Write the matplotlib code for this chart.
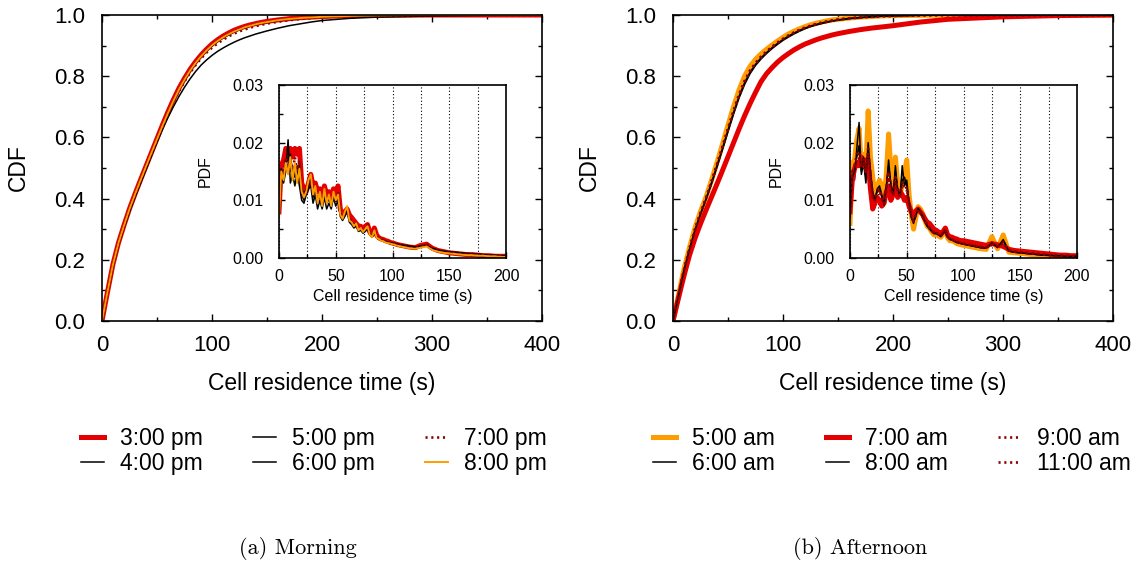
import numpy as np
import matplotlib
matplotlib.use('Agg')
import matplotlib.pyplot as plt
from matplotlib.ticker import MultipleLocator

plt.rcParams['font.family'] = 'Liberation Sans'

# ---------------- data ----------------
cdf_t = [0, 5, 10, 15, 20, 25, 30, 35, 40, 45, 50, 55, 60, 65, 70, 75, 80, 85, 90, 95, 100,
         105, 110, 115, 120, 125, 130, 135, 140, 145, 150, 160, 170, 180, 190, 200, 225, 250, 300, 350, 400]
# histogram bin positions of the pdf insets (2 s bins up to 100 s, then 5 s)
pdf_t = np.concatenate([np.arange(0, 101, 2), np.arange(105, 201, 5)])

# (a) Morning
cdf_3pm = [0.0, 0.095, 0.186, 0.256, 0.313, 0.367, 0.415, 0.461, 0.506, 0.551, 0.596, 0.641, 0.684, 0.724, 0.761, 0.793, 0.822, 0.847, 0.869, 0.888, 0.905,
           0.919, 0.931, 0.941, 0.95, 0.957, 0.963, 0.968, 0.972, 0.976, 0.979, 0.984, 0.988, 0.991, 0.993, 0.995, 0.998, 0.999, 1.0, 1.0, 1.0]
cdf_4pm = [0.0, 0.092, 0.18, 0.25, 0.305, 0.357, 0.405, 0.45, 0.495, 0.54, 0.584, 0.626, 0.665, 0.701, 0.734, 0.764, 0.791, 0.815, 0.836, 0.853, 0.868,
           0.881, 0.892, 0.902, 0.911, 0.919, 0.926, 0.932, 0.938, 0.943, 0.948, 0.957, 0.965, 0.971, 0.977, 0.982, 0.989, 0.993, 0.997, 0.999, 1.0]
cdf_5pm = [0.0, 0.094, 0.184, 0.254, 0.311, 0.365, 0.413, 0.459, 0.504, 0.548, 0.592, 0.636, 0.678, 0.718, 0.755, 0.787, 0.816, 0.841, 0.863, 0.882, 0.899,
           0.913, 0.925, 0.935, 0.944, 0.952, 0.958, 0.964, 0.969, 0.973, 0.976, 0.982, 0.986, 0.989, 0.992, 0.994, 0.997, 0.999, 1.0, 1.0, 1.0]
cdf_6pm = [0.0, 0.095, 0.186, 0.256, 0.313, 0.367, 0.415, 0.461, 0.506, 0.55, 0.595, 0.639, 0.681, 0.721, 0.758, 0.79, 0.819, 0.844, 0.866, 0.885, 0.902,
           0.916, 0.928, 0.938, 0.947, 0.954, 0.96, 0.965, 0.97, 0.974, 0.977, 0.983, 0.987, 0.99, 0.992, 0.994, 0.997, 0.999, 1.0, 1.0, 1.0]
cdf_7pm = [0.0, 0.094, 0.184, 0.254, 0.31, 0.364, 0.411, 0.457, 0.502, 0.546, 0.59, 0.634, 0.676, 0.715, 0.751, 0.783, 0.811, 0.836, 0.858, 0.877, 0.893,
           0.907, 0.919, 0.93, 0.939, 0.947, 0.953, 0.959, 0.964, 0.968, 0.972, 0.978, 0.983, 0.987, 0.99, 0.993, 0.997, 0.999, 1.0, 1.0, 1.0]
cdf_8pm = [0.0, 0.095, 0.185, 0.255, 0.312, 0.366, 0.414, 0.46, 0.505, 0.55, 0.594, 0.638, 0.68, 0.72, 0.757, 0.789, 0.818, 0.843, 0.865, 0.884, 0.901,
           0.915, 0.927, 0.937, 0.946, 0.953, 0.96, 0.965, 0.97, 0.974, 0.977, 0.983, 0.987, 0.99, 0.992, 0.994, 0.997, 0.999, 1.0, 1.0, 1.0]

pdf_3pm = [0.008, 0.016, 0.017, 0.019, 0.018, 0.019, 0.0175, 0.019, 0.018, 0.019, 0.013, 0.012, 0.0115, 0.013, 0.0145, 0.0125, 0.013, 0.0115, 0.012, 0.0105,
           0.0125, 0.011, 0.0115, 0.0105, 0.012, 0.011, 0.0125, 0.0085, 0.0075, 0.008, 0.0085, 0.0075, 0.007, 0.0065, 0.006, 0.0055, 0.0055, 0.005, 0.0055, 0.0058,
           0.0045, 0.004, 0.0052, 0.004, 0.0035, 0.0033, 0.0032, 0.003, 0.0029, 0.0027, 0.0026,
           0.0023, 0.0021, 0.0019, 0.0018, 0.0022, 0.0024, 0.0017, 0.0013, 0.0011, 0.0009, 0.0008, 0.0007, 0.0006, 0.0006, 0.0005, 0.0004, 0.0004, 0.0003, 0.0003, 0.0003]
pdf_4pm = [0.007, 0.014, 0.013, 0.015, 0.0205, 0.013, 0.0145, 0.0125, 0.015, 0.0125, 0.010, 0.0095, 0.011, 0.012, 0.0125, 0.0095, 0.011, 0.0085, 0.010, 0.0085,
           0.0105, 0.0085, 0.0095, 0.0085, 0.0105, 0.009, 0.010, 0.0072, 0.0065, 0.0072, 0.008, 0.0062, 0.0058, 0.0052, 0.0055, 0.0046, 0.0048, 0.0043, 0.0046, 0.005,
           0.004, 0.0036, 0.0044, 0.0035, 0.0033, 0.0031, 0.003, 0.0029, 0.0028, 0.0027, 0.0026,
           0.0024, 0.0022, 0.0021, 0.0019, 0.0021, 0.0022, 0.0017, 0.0014, 0.0012, 0.0011, 0.001, 0.0009, 0.0008, 0.0007, 0.0007, 0.0006, 0.0005, 0.0005, 0.0004, 0.0004]
pdf_5pm = [0.008, 0.0155, 0.014, 0.017, 0.015, 0.018, 0.014, 0.016, 0.0135, 0.016, 0.012, 0.011, 0.012, 0.0128, 0.014, 0.0115, 0.012, 0.010, 0.0112, 0.0095,
           0.0118, 0.010, 0.0105, 0.0095, 0.011, 0.0102, 0.0112, 0.0078, 0.007, 0.0078, 0.0086, 0.0068, 0.0063, 0.0058, 0.0058, 0.005, 0.005, 0.0046, 0.005, 0.0053,
           0.0042, 0.0037, 0.0046, 0.0036, 0.0033, 0.0031, 0.0029, 0.0028, 0.0026, 0.0025, 0.0024,
           0.0021, 0.002, 0.0018, 0.0016, 0.0019, 0.0021, 0.0015, 0.0012, 0.001, 0.0008, 0.0007, 0.0006, 0.0006, 0.0005, 0.0004, 0.0004, 0.0003, 0.0003, 0.0003, 0.0002]
pdf_6pm = [0.0075, 0.0145, 0.015, 0.016, 0.0175, 0.015, 0.016, 0.014, 0.016, 0.0145, 0.011, 0.010, 0.0115, 0.0125, 0.0135, 0.0105, 0.012, 0.0095, 0.0108, 0.0092,
           0.0112, 0.0095, 0.0102, 0.009, 0.0108, 0.0098, 0.0105, 0.0076, 0.0068, 0.0075, 0.0084, 0.0066, 0.006, 0.0056, 0.0057, 0.0049, 0.0049, 0.0045, 0.0049, 0.0052,
           0.0041, 0.0037, 0.0045, 0.0036, 0.0033, 0.0031, 0.003, 0.0028, 0.0027, 0.0026, 0.0025,
           0.0022, 0.002, 0.0019, 0.0017, 0.0019, 0.0021, 0.0016, 0.0013, 0.0011, 0.0009, 0.0008, 0.0007, 0.0006, 0.0006, 0.0005, 0.0004, 0.0004, 0.0003, 0.0003, 0.0003]
pdf_7pm = [0.0078, 0.015, 0.0145, 0.0175, 0.016, 0.017, 0.015, 0.0175, 0.015, 0.017, 0.0118, 0.0108, 0.0118, 0.013, 0.014, 0.0112, 0.0125, 0.010, 0.0115, 0.0095,
           0.0118, 0.010, 0.0108, 0.0095, 0.0112, 0.0102, 0.0115, 0.008, 0.007, 0.0078, 0.0085, 0.0068, 0.0064, 0.0058, 0.0058, 0.005, 0.0052, 0.0046, 0.005, 0.0058,
           0.0042, 0.0038, 0.005, 0.0037, 0.0034, 0.0031, 0.003, 0.0028, 0.0027, 0.0026, 0.0025,
           0.0022, 0.002, 0.0018, 0.0017, 0.002, 0.0025, 0.0015, 0.0012, 0.001, 0.0009, 0.0008, 0.0007, 0.0006, 0.0005, 0.0005, 0.0004, 0.0004, 0.0003, 0.0003, 0.0003]
pdf_8pm = [0.007, 0.015, 0.0135, 0.0165, 0.0145, 0.0175, 0.0135, 0.0165, 0.013, 0.0155, 0.0115, 0.0105, 0.0115, 0.0135, 0.0145, 0.011, 0.0125, 0.0095, 0.0115, 0.009,
           0.012, 0.0095, 0.011, 0.009, 0.0115, 0.010, 0.011, 0.0075, 0.0068, 0.008, 0.009, 0.0065, 0.0062, 0.0055, 0.006, 0.0048, 0.0052, 0.0045, 0.005, 0.0055,
           0.004, 0.0036, 0.0048, 0.0035, 0.0033, 0.003, 0.0029, 0.0027, 0.0026, 0.0025, 0.0024,
           0.0021, 0.0019, 0.0017, 0.0016, 0.0018, 0.002, 0.0014, 0.0011, 0.0009, 0.0008, 0.0007, 0.0006, 0.0005, 0.0005, 0.0004, 0.0004, 0.0003, 0.0003, 0.0002, 0.0002]

# (b) Afternoon
cdf_5am = [0.0, 0.085, 0.17, 0.24, 0.305, 0.358, 0.405, 0.46, 0.518, 0.578, 0.64, 0.70, 0.755, 0.80, 0.832, 0.855, 0.873, 0.888, 0.902, 0.915, 0.927,
           0.938, 0.947, 0.955, 0.962, 0.968, 0.973, 0.977, 0.981, 0.984, 0.986, 0.99, 0.993, 0.995, 0.997, 0.998, 0.999, 1.0, 1.0, 1.0, 1.0]
cdf_6am = [0.0, 0.08, 0.162, 0.232, 0.295, 0.348, 0.396, 0.448, 0.503, 0.56, 0.618, 0.675, 0.728, 0.772, 0.808, 0.835, 0.856, 0.874, 0.89, 0.904, 0.917,
           0.928, 0.938, 0.947, 0.955, 0.962, 0.967, 0.972, 0.976, 0.98, 0.983, 0.988, 0.991, 0.994, 0.996, 0.997, 0.999, 1.0, 1.0, 1.0, 1.0]
cdf_7am = [0.0, 0.075, 0.148, 0.215, 0.27, 0.318, 0.362, 0.405, 0.448, 0.492, 0.537, 0.582, 0.627, 0.67, 0.71, 0.747, 0.782, 0.808, 0.828, 0.846, 0.861,
           0.874, 0.886, 0.896, 0.905, 0.912, 0.919, 0.925, 0.93, 0.935, 0.939, 0.946, 0.952, 0.957, 0.961, 0.965, 0.977, 0.986, 0.994, 0.998, 1.0]
cdf_8am = [0.0, 0.082, 0.165, 0.235, 0.298, 0.351, 0.399, 0.452, 0.508, 0.565, 0.624, 0.681, 0.734, 0.778, 0.813, 0.839, 0.86, 0.877, 0.893, 0.907, 0.92,
           0.931, 0.941, 0.95, 0.957, 0.964, 0.969, 0.974, 0.978, 0.981, 0.984, 0.989, 0.992, 0.994, 0.996, 0.997, 0.999, 1.0, 1.0, 1.0, 1.0]
cdf_9am = [0.0, 0.083, 0.167, 0.237, 0.30, 0.354, 0.402, 0.456, 0.512, 0.57, 0.629, 0.687, 0.74, 0.784, 0.818, 0.843, 0.864, 0.881, 0.896, 0.91, 0.922,
           0.933, 0.943, 0.951, 0.959, 0.965, 0.97, 0.975, 0.979, 0.982, 0.985, 0.989, 0.992, 0.995, 0.996, 0.997, 0.999, 1.0, 1.0, 1.0, 1.0]
cdf_11am = [0.0, 0.082, 0.166, 0.236, 0.299, 0.352, 0.40, 0.454, 0.51, 0.568, 0.627, 0.684, 0.737, 0.781, 0.816, 0.841, 0.862, 0.879, 0.894, 0.908, 0.921,
            0.932, 0.942, 0.95, 0.958, 0.964, 0.97, 0.974, 0.978, 0.982, 0.985, 0.989, 0.992, 0.994, 0.996, 0.997, 0.999, 1.0, 1.0, 1.0, 1.0]

pdf_5am = [0.006, 0.0165, 0.017, 0.0205, 0.0225, 0.016, 0.018, 0.0155, 0.0255, 0.0175, 0.014, 0.011, 0.0125, 0.0135, 0.0125, 0.010, 0.0145, 0.0215, 0.0155, 0.012,
           0.0175, 0.013, 0.011, 0.0125, 0.015, 0.017, 0.011, 0.0075, 0.005, 0.007, 0.0089, 0.0085, 0.0077, 0.0065, 0.0055, 0.0052, 0.0045, 0.004, 0.0042, 0.0038,
           0.0036, 0.0042, 0.0051, 0.0035, 0.003, 0.003, 0.0028, 0.0025, 0.0024, 0.0023, 0.0022,
           0.002, 0.0018, 0.0016, 0.0015, 0.0037, 0.0016, 0.004, 0.001, 0.0009, 0.0008, 0.0007, 0.0006, 0.0005, 0.0004, 0.0004, 0.0003, 0.0003, 0.0002, 0.0002, 0.0002]
pdf_6am = [0.007, 0.015, 0.0135, 0.019, 0.0235, 0.0145, 0.0165, 0.013, 0.0185, 0.014, 0.011, 0.0105, 0.0115, 0.012, 0.0105, 0.009, 0.012, 0.017, 0.0125, 0.0105,
           0.016, 0.0115, 0.0105, 0.016, 0.0125, 0.0135, 0.0095, 0.007, 0.006, 0.0075, 0.0085, 0.008, 0.007, 0.0062, 0.0055, 0.005, 0.0046, 0.0042, 0.0042, 0.004,
           0.0037, 0.0042, 0.0048, 0.0036, 0.0032, 0.0031, 0.0029, 0.0027, 0.0026, 0.0025, 0.0024,
           0.0022, 0.002, 0.0018, 0.0017, 0.0028, 0.0018, 0.0032, 0.0012, 0.001, 0.0009, 0.0008, 0.0007, 0.0006, 0.0005, 0.0005, 0.0004, 0.0003, 0.0003, 0.0003, 0.0002]
pdf_7am = [0.008, 0.0135, 0.0155, 0.0165, 0.016, 0.0175, 0.016, 0.017, 0.0165, 0.012, 0.0085, 0.0095, 0.0105, 0.010, 0.009, 0.0095, 0.0115, 0.0125, 0.010, 0.011,
           0.0125, 0.0105, 0.0115, 0.011, 0.010, 0.0105, 0.009, 0.008, 0.0075, 0.0082, 0.0085, 0.008, 0.0075, 0.0068, 0.0062, 0.006, 0.0055, 0.005, 0.0048, 0.0045,
           0.0042, 0.0046, 0.0052, 0.004, 0.0037, 0.0036, 0.0034, 0.0033, 0.0031, 0.003, 0.003,
           0.0028, 0.0026, 0.0024, 0.0022, 0.0025, 0.0023, 0.002, 0.0015, 0.0013, 0.0012, 0.0011, 0.001, 0.0009, 0.0008, 0.0007, 0.0006, 0.0005, 0.0005, 0.0004, 0.0004]
pdf_8am = [0.0075, 0.014, 0.015, 0.0175, 0.0195, 0.015, 0.0175, 0.014, 0.020, 0.015, 0.0115, 0.010, 0.012, 0.0125, 0.011, 0.0092, 0.0125, 0.016, 0.013, 0.011,
           0.015, 0.012, 0.0108, 0.0135, 0.014, 0.0125, 0.0098, 0.0072, 0.0062, 0.0073, 0.0086, 0.008, 0.0072, 0.0064, 0.0056, 0.0051, 0.0047, 0.0043, 0.0043, 0.004,
           0.0038, 0.0043, 0.0047, 0.0036, 0.0033, 0.0031, 0.0029, 0.0027, 0.0026, 0.0025, 0.0024,
           0.0022, 0.002, 0.0018, 0.0017, 0.0026, 0.0019, 0.003, 0.0012, 0.001, 0.0009, 0.0008, 0.0007, 0.0006, 0.0005, 0.0005, 0.0004, 0.0004, 0.0003, 0.0003, 0.0003]
pdf_9am = [0.008, 0.0145, 0.016, 0.018, 0.0185, 0.0155, 0.017, 0.0145, 0.019, 0.0145, 0.011, 0.010, 0.0115, 0.012, 0.0105, 0.0095, 0.012, 0.015, 0.012, 0.0108,
           0.014, 0.0118, 0.0105, 0.013, 0.0128, 0.012, 0.0095, 0.0072, 0.0063, 0.0075, 0.0085, 0.008, 0.0073, 0.0064, 0.0057, 0.0052, 0.0047, 0.0043, 0.0044, 0.0041,
           0.0038, 0.0043, 0.005, 0.0037, 0.0033, 0.0032, 0.003, 0.0028, 0.0027, 0.0026, 0.0025,
           0.0023, 0.0021, 0.0019, 0.0018, 0.0024, 0.002, 0.0028, 0.0013, 0.0011, 0.001, 0.0009, 0.0008, 0.0007, 0.0006, 0.0005, 0.0005, 0.0004, 0.0004, 0.0003, 0.0003]
pdf_11am = [0.0078, 0.015, 0.0155, 0.017, 0.0175, 0.016, 0.0165, 0.015, 0.018, 0.014, 0.0105, 0.0102, 0.0112, 0.0118, 0.0102, 0.0098, 0.0118, 0.0145, 0.0118, 0.011,
            0.0135, 0.0115, 0.0108, 0.0125, 0.0122, 0.0118, 0.0092, 0.0074, 0.0066, 0.0076, 0.0084, 0.0079, 0.0072, 0.0065, 0.0058, 0.0053, 0.0048, 0.0044, 0.0044, 0.0041,
            0.0038, 0.0044, 0.0049, 0.0037, 0.0034, 0.0032, 0.003, 0.0029, 0.0027, 0.0026, 0.0025,
            0.0023, 0.0021, 0.0019, 0.0018, 0.0023, 0.002, 0.0026, 0.0013, 0.0011, 0.001, 0.0009, 0.0008, 0.0007, 0.0006, 0.0005, 0.0005, 0.0004, 0.0004, 0.0003, 0.0003]

# ---------------- styles ----------------
RED = '#e40000'
ORANGE = '#ff9c00'
DRED = '#8c0000'
thick_red = dict(color=RED, lw=3.6)
thick_orange = dict(color=ORANGE, lw=3.6)
thin_orange = dict(color=ORANGE, lw=1.4)
thin_black = dict(color='black', lw=1.1)
dotted = dict(color=DRED, lw=1.9, ls=(0, (0.8, 1.4)))

morning = [('3:00 pm', cdf_3pm, pdf_3pm, thick_red),
           ('4:00 pm', cdf_4pm, pdf_4pm, thin_black),
           ('5:00 pm', cdf_5pm, pdf_5pm, thin_black),
           ('6:00 pm', cdf_6pm, pdf_6pm, thin_black),
           ('7:00 pm', cdf_7pm, pdf_7pm, dotted),
           ('8:00 pm', cdf_8pm, pdf_8pm, thin_orange)]
afternoon = [('5:00 am', cdf_5am, pdf_5am, thick_orange),
             ('6:00 am', cdf_6am, pdf_6am, thin_black),
             ('7:00 am', cdf_7am, pdf_7am, thick_red),
             ('8:00 am', cdf_8am, pdf_8am, thin_black),
             ('9:00 am', cdf_9am, pdf_9am, dotted),
             ('11:00 am', cdf_11am, pdf_11am, dotted)]

W, H = 1140, 561
fig = plt.figure(figsize=(W / 100, H / 100), dpi=100)


def px(x0, y0, x1, y1):
    # pixel box -> figure fraction
    return [x0 / W, 1 - y1 / H, (x1 - x0) / W, (y1 - y0) / H]


def panel(x0, series, legx, caption, capx):
    ax = fig.add_axes(px(x0, 15, x0 + 440, 321))
    ins = fig.add_axes(px(x0 + 177, 85, x0 + 404, 258))
    handles = []
    for lab, c, p, st in series:
        h, = ax.plot(cdf_t, c, label=lab, **st)
        ins.plot(pdf_t, p, **st)
        handles.append(h)

    ax.set_xlim(0, 400)
    ax.set_ylim(0, 1)
    ax.xaxis.set_major_locator(MultipleLocator(100))
    ax.xaxis.set_minor_locator(MultipleLocator(50))
    ax.yaxis.set_major_locator(MultipleLocator(0.2))
    ax.yaxis.set_minor_locator(MultipleLocator(0.1))
    ax.yaxis.set_major_formatter(plt.FormatStrFormatter('%.1f'))
    ax.tick_params(which='both', direction='in', top=True, right=True, width=1.0)
    ax.tick_params(which='major', length=5, labelsize=16, pad=10)
    ax.tick_params(which='minor', length=3)
    ax.tick_params(axis='y', which='major', pad=12)
    ax.set_xlabel('Cell residence time (s)', fontsize=16.5, va='center')
    ax.set_ylabel('CDF', fontsize=16.5, va='center')
    ax.xaxis.set_label_coords(0.5, -0.203)
    ax.yaxis.set_label_coords(-0.19, 0.5)
    for s in ax.spines.values():
        s.set_linewidth(1.2)

    ins.set_xlim(0, 200)
    ins.set_ylim(0, 0.03)
    ins.xaxis.set_major_locator(MultipleLocator(50))
    ins.xaxis.set_minor_locator(MultipleLocator(25))
    ins.yaxis.set_major_locator(MultipleLocator(0.01))
    ins.yaxis.set_minor_locator(MultipleLocator(0.005))
    ins.yaxis.set_major_formatter(plt.FormatStrFormatter('%.2f'))
    ins.tick_params(which='both', direction='in', width=1.0)
    ins.tick_params(which='major', length=4, labelsize=11.5)
    ins.tick_params(which='minor', length=3)
    ins.tick_params(axis='y', which='major', pad=11)
    ins.tick_params(axis='x', which='major', pad=8)
    ins.grid(True, axis='x', which='both', color='black', ls=(0, (1, 2)), lw=0.8)
    ins.set_xlabel('Cell residence time (s)', fontsize=11.5, va='center')
    ins.set_ylabel('PDF', fontsize=11.5, va='center')
    ins.xaxis.set_label_coords(0.5, -0.22)
    ins.yaxis.set_label_coords(-0.326, 0.5)
    for s in ins.spines.values():
        s.set_linewidth(1.2)

    fig.legend(handles=handles, loc='center', bbox_to_anchor=(legx / W, 1 - 451 / H),
               ncol=3, frameon=False, fontsize=16.5, handlelength=1.0,
               handletextpad=0.7, columnspacing=2.2, labelspacing=0.1,
               borderpad=0)
    fig.text(capx / W, 1 - 548 / H, caption, ha='center', va='center',
             family='cmr10', fontsize=16)


panel(102, morning, 314, '(a) Morning', 298)
panel(673, afternoon, 892, '(b) Afternoon', 860)

fig.savefig('out.png', dpi=100)
